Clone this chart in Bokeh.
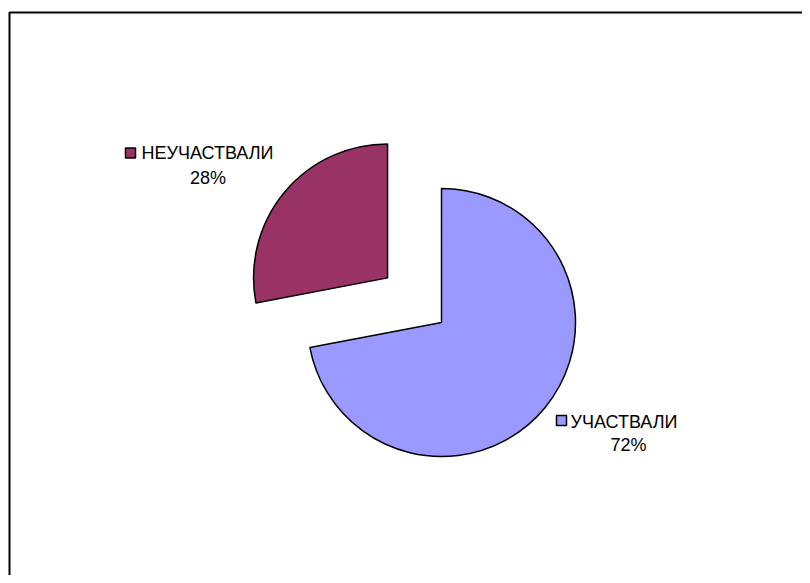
import math
from bokeh.plotting import figure
from bokeh.models import Range1d, ColumnDataSource
from bokeh.core.properties import value
from bokeh.embed import file_html
from bokeh.resources import INLINE

# ---- data ----
categories = ["УЧАСТВАЛИ", "НЕУЧАСТВАЛИ"]
percents = [72, 28]
colors = ["#9999FF", "#993366"]

# ---- layout (reference pixels -> data units, 1 unit = 1 px) ----
W, H = 802, 575
def X(px):
    return px
def Y(py):
    return H - py

cx, cy = X(441), Y(322)
radius = 134
explode = [0, 70]

p = figure(width=W, height=H, x_range=Range1d(0, W), y_range=Range1d(0, H),
           x_axis_type=None, y_axis_type=None, toolbar_location=None,
           output_backend="svg", min_border=0)
p.outline_line_color = None
p.grid.visible = False
p.background_fill_color = "white"
p.border_fill_color = "white"

# frame (left and top edges visible)
p.line(x=[X(9), X(9), X(820)], y=[Y(600), Y(12), Y(12)], line_color="black", line_width=2)

# wedges: start at 12 o'clock, clockwise
total = sum(percents)
starts, ends, xs, ys = [], [], [], []
cum = 0
for v, e in zip(percents, explode):
    a0 = math.pi / 2 - 2 * math.pi * cum / total
    a1 = math.pi / 2 - 2 * math.pi * (cum + v) / total
    mid = (a0 + a1) / 2
    starts.append(a0)
    ends.append(a1)
    xs.append(cx + e * math.cos(mid))
    ys.append(cy + e * math.sin(mid))
    cum += v

src = ColumnDataSource(dict(x=xs, y=ys, start=starts, end=ends, color=colors))
p.wedge(x="x", y="y", radius=radius, start_angle="start", end_angle="end",
        direction="clock", fill_color="color", line_color="black", line_width=1.5,
        source=src)

# labels
label_pos = {
    "УЧАСТВАЛИ": dict(sq=(561, 420), name=(570, 421), pct=(628, 444)),
    "НЕУЧАСТВАЛИ": dict(sq=(130, 152.5), name=(141, 152), pct=(207.5, 177)),
}
font = value("Liberation Sans")
for cat, v, col in zip(categories, percents, colors):
    lp = label_pos[cat]
    p.scatter(x=[X(lp["sq"][0])], y=[Y(lp["sq"][1])], marker="square", size=10,
              fill_color=col, line_color="black", line_width=1.5)
    p.text(x=[X(lp["name"][0])], y=[Y(lp["name"][1])], text=[cat], text_font=font,
           text_font_size="18px", text_align="left", text_baseline="alphabetic",
           text_color="black")
    p.text(x=[X(lp["pct"][0])], y=[Y(lp["pct"][1])], text=[f"{v}%"], text_font=font,
           text_font_size="18px", text_align="center", text_baseline="alphabetic",
           text_color="black")

open("out.html", "w").write(file_html(p, INLINE))
